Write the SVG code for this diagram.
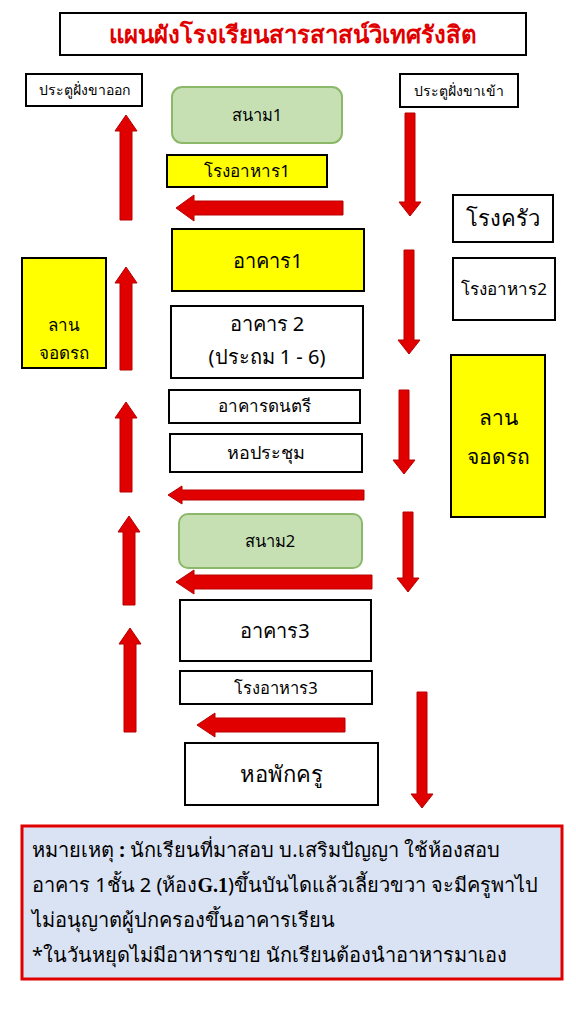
<svg xmlns="http://www.w3.org/2000/svg" width="576" height="1024" viewBox="0 0 576 1024">
<style>
text{font-family:"Noto Sans","DejaVu Sans","Liberation Sans",sans-serif;fill:#000;text-anchor:middle}
.box{fill:#fff;stroke:#000;stroke-width:2}
.yel{fill:#ffff00;stroke:#000;stroke-width:2}
.grn{fill:#c6e0b4;stroke:#8cb86a;stroke-width:2}
.arr{fill:#e00000;stroke:#b80000;stroke-width:1}
.t14{font-size:14px}
.t16{font-size:16.5px}
.t17{font-size:17px}
.t20{font-size:20px}
.note{font-size:20px;text-anchor:start}
</style>
<rect width="576" height="1024" fill="#fff"/>
<g id="title"><rect class="box" x="60" y="13" width="466" height="42"/><text x="293" y="43" style="font-size:24px;font-weight:bold;fill:#e00000">แผนผังโรงเรียนสารสาสน์วิเทศรังสิต</text></g>
<g id="gate-out"><rect class="box" x="26" y="74" width="116" height="32"/><text class="t14" x="84" y="95">ประตูฝั่งขาออก</text></g>
<g id="gate-in"><rect class="box" x="400" y="74" width="118" height="33"/><text class="t14" x="459" y="96">ประตูฝั่งขาเข้า</text></g>
<g id="field1"><rect class="grn" x="172" y="87" width="170" height="56" rx="10"/><text class="t16" x="257" y="121">สนาม1</text></g>
<g id="canteen1"><rect class="yel" x="167" y="155" width="160" height="32"/><text class="t17" x="247" y="177">โรงอาหาร1</text></g>
<g id="kitchen"><rect class="box" x="453" y="195" width="100" height="47"/><text x="503" y="226" style="font-size:22px">โรงครัว</text></g>
<g id="building1"><rect class="yel" x="172" y="229" width="192" height="62"/><text class="t20" x="268" y="268">อาคาร1</text></g>
<g id="canteen2"><rect class="box" x="453" y="258" width="102" height="62"/><text class="t17" x="504" y="295">โรงอาหาร2</text></g>
<g id="parking-left"><rect class="yel" x="22" y="258" width="84" height="110"/><text class="t17" x="64" y="331">ลาน</text><text class="t17" x="64" y="359">จอดรถ</text></g>
<g id="building2"><rect class="box" x="171" y="306" width="192" height="72"/><text class="t20" x="267" y="331">อาคาร 2</text><text class="t20" x="267" y="364">(ประถม 1 - 6)</text></g>
<g id="parking-right"><rect class="yel" x="451" y="355" width="94" height="162"/><text x="498" y="425" style="font-size:21px">ลาน</text><text x="498" y="464" style="font-size:21px">จอดรถ</text></g>
<g id="music"><rect class="box" x="169" y="390" width="191" height="33"/><text class="t17" x="264" y="412">อาคารดนตรี</text></g>
<g id="hall"><rect class="box" x="170" y="434" width="192" height="38"/><text x="266" y="459" style="font-size:18px">หอประชุม</text></g>
<g id="field2"><rect class="grn" x="179" y="514" width="183" height="54" rx="9"/><text class="t16" x="270" y="547">สนาม2</text></g>
<g id="building3"><rect class="box" x="180" y="600" width="191" height="61"/><text class="t20" x="275" y="638">อาคาร3</text></g>
<g id="canteen3"><rect class="box" x="180" y="671" width="192" height="33"/><text class="t16" x="276" y="694">โรงอาหาร3</text></g>
<g id="dorm"><rect class="box" x="185" y="743" width="193" height="62"/><text x="281" y="782" style="font-size:22px">หอพักครู</text></g>
<g id="connectors">
<polygon class="arr" points="126,115 137,131 132,131 132,220 120,220 120,131 115,131"/>
<polygon class="arr" points="126,267 137,283 132,283 132,370 120,370 120,283 115,283"/>
<polygon class="arr" points="126,402 137,418 132,418 132,492 120,492 120,418 115,418"/>
<polygon class="arr" points="129,516 140,532 135,532 135,605 123,605 123,532 118,532"/>
<polygon class="arr" points="130,628 141,644 136,644 136,732 124,732 124,644 119,644"/>
<polygon class="arr" points="405,113 415,113 415,202 421,202 410,216 399,202 405,202"/>
<polygon class="arr" points="404,250 414,250 414,340 420,340 409,354 398,340 404,340"/>
<polygon class="arr" points="399,390 409,390 409,460 415,460 404,474 393,460 399,460"/>
<polygon class="arr" points="403,512 413,512 413,578 419,578 408,592 397,578 403,578"/>
<polygon class="arr" points="417,692 427,692 427,794 433,794 422,808 411,794 417,794"/>
<polygon class="arr" points="176,208 194,195 194,201 343,201 343,215 194,215 194,221"/>
<polygon class="arr" points="168,495 182,486 182,490 364,490 364,500 182,500 182,504"/>
<polygon class="arr" points="176,582 194,570 194,575 372,575 372,589 194,589 194,594"/>
<polygon class="arr" points="197,725 215,713 215,718 345,718 345,732 215,732 215,737"/>
</g>
<g id="note"><rect x="22" y="826" width="540" height="153" fill="#dae3f3" stroke="#e00000" stroke-width="3"/>
<text class="note" x="32" y="857">หมายเหตุ <tspan font-weight="bold">:</tspan> นักเรียนที่มาสอบ บ.เสริมปัญญา ใช้ห้องสอบ</text>
<text class="note" x="32" y="892">อาคาร 1ชั้น 2 (ห้อง<tspan font-family="Liberation Serif" font-weight="bold">G.1</tspan>)ขึ้นบันไดแล้วเลี้ยวขวา จะมีครูพาไป</text>
<text class="note" x="32" y="927">ไม่อนุญาตผู้ปกครองขึ้นอาคารเรียน</text>
<text class="note" x="32" y="962">*ในวันหยุดไม่มีอาหารขาย นักเรียนต้องนำอาหารมาเอง</text>
</g>
</svg>
